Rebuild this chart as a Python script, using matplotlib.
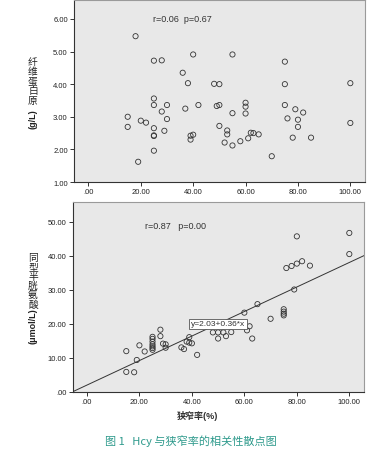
import matplotlib
matplotlib.use('Agg')
import matplotlib.pyplot as plt

plt.rcParams['font.family'] = ['Liberation Sans', 'Noto Sans CJK SC', 'DejaVu Sans']

# 纤维蛋白原 vs 狭窄率
fib_x = [18, 25, 28, 40, 55, 75, 36, 38, 48, 50, 75, 100, 25, 25, 30, 28, 30, 37, 42, 49,
         50, 60, 60, 60, 55, 75, 79, 82, 76, 80, 80, 15, 15, 20, 22, 25, 29, 25, 25, 25,
         19, 39, 40, 39, 50, 53, 53, 52, 55, 58, 61, 62, 63, 65, 70, 78, 85, 100]
fib_y = [5.47, 4.72, 4.73, 4.91, 4.91, 4.69, 4.35, 4.03, 4.01, 4.00, 4.00, 4.03, 3.56, 3.36,
         3.36, 3.16, 2.93, 3.25, 3.36, 3.33, 3.36, 3.43, 3.31, 3.10, 3.11, 3.36, 3.23, 3.13,
         2.95, 2.91, 2.69, 3.00, 2.69, 2.88, 2.82, 2.65, 2.57, 2.43, 2.41, 1.96, 1.62, 2.42,
         2.45, 2.30, 2.72, 2.58, 2.46, 2.21, 2.12, 2.25, 2.34, 2.51, 2.50, 2.46, 1.79, 2.36,
         2.36, 2.81]

# 同型半胱氨酸 vs 狭窄率
hcy_x = [100, 100, 80, 76, 78, 80, 82, 85, 79, 65, 60, 75, 75, 75, 75, 70, 63, 62, 61, 48,
         50, 52, 55, 50, 53, 39, 38, 39, 40, 36, 37, 42, 28, 28, 25, 25, 25, 25, 25, 25, 25,
         29, 30, 30, 20, 22, 15, 19, 15, 18]
hcy_y = [46.7, 40.5, 45.7, 36.4, 37.0, 37.7, 38.4, 37.1, 30.1, 25.8, 23.3, 24.3, 23.6, 23.0,
         22.5, 21.5, 15.7, 19.3, 18.1, 17.5, 17.5, 17.5, 17.6, 15.7, 16.4, 16.1, 14.8, 14.5,
         14.3, 13.1, 12.6, 10.9, 18.3, 16.4, 16.2, 15.6, 14.8, 14.0, 13.4, 12.9, 12.4, 14.2,
         14.0, 13.0, 13.7, 11.9, 12.0, 9.4, 5.9, 5.8]

fit_a, fit_b = 2.03, 0.36
x_ticks = [0, 20, 40, 60, 80, 100]
x_labels = ['.00', '20.00', '40.00', '60.00', '80.00', '100.00']
fib_ticks = [1, 2, 3, 4, 5, 6]
hcy_ticks = [0, 10, 20, 30, 40, 50]

W, H = 391, 452
fig = plt.figure(figsize=(W / 100, H / 100), dpi=100)


def px_ax(l, t, r, b):
    return fig.add_axes([l / W, 1 - b / H, (r - l) / W, (b - t) / H])


def style(ax, yticks, ylabels):
    ax.set_facecolor('#e8e8e8')
    for s in ['top', 'right']:
        ax.spines[s].set_color('#9a9a9a')
        ax.spines[s].set_linewidth(0.8)
    for s in ['left', 'bottom']:
        ax.spines[s].set_color('#333333')
        ax.spines[s].set_linewidth(0.8)
    ax.set_xticks(x_ticks)
    ax.set_xticklabels(x_labels)
    ax.set_yticks(yticks)
    ax.set_yticklabels(ylabels)
    ax.tick_params(length=3, width=0.7, color='#333333', labelsize=5.5, pad=1.5,
                   labelcolor='#222222')


def vlabel(x, y0, chars, rest, step, rest_y):
    # upright stacked characters, then the unit rotated
    for i, c in enumerate(chars):
        fig.text(x / W, 1 - (y0 + i * step) / H, c, ha='center', va='center',
                 fontsize=7, color='#222222', family=['Noto Sans CJK SC', 'DejaVu Sans'])
    fig.text(x / W, 1 - rest_y / H, rest, ha='center', va='center', rotation=90,
             fontsize=6.5, fontweight='bold', color='#222222',
             family=['Liberation Sans', 'Noto Sans CJK SC'])


# top panel
ax1 = px_ax(74, 1, 365, 183)
ax1.scatter(fib_x, fib_y, s=14, facecolors='none', edgecolors='#333333', linewidths=0.6)
ax1.set_xlim(-5.5, 105.6)
ax1.set_ylim(1, 6.58)
style(ax1, fib_ticks, ['%.2f' % v for v in fib_ticks])
ax1.text(24.5, 6.02, 'r=0.06  p=0.67', fontsize=6.5, va='center', color='#333333')
vlabel(33, 62, '纤维蛋白原', '(g/L)', 9.8, 119)

# bottom panel
ax2 = px_ax(72.5, 203.3, 364, 393)
ax2.scatter(hcy_x, hcy_y, s=14, facecolors='none', edgecolors='#333333', linewidths=0.6,
            zorder=2)
xl = (-5.5, 105.6)
ax2.plot(xl, [fit_a + fit_b * v for v in xl], color='#333333', lw=0.7, zorder=3)
ax2.set_xlim(*xl)
ax2.set_ylim(0, 55.7)
style(ax2, hcy_ticks, ['.00'] + ['%.2f' % v for v in hcy_ticks[1:]])
ax2.text(22.2, 49.0, 'r=0.87   p=0.00', fontsize=6.5, va='center', color='#333333')
ax2.text(50, 20.0, 'y=2.03+0.36*x', fontsize=6, ha='center', va='center', color='#333333',
         zorder=4, bbox=dict(boxstyle='square,pad=0.2', fc='white', ec='#555555', lw=0.6))
vlabel(33, 258, '同型半胱氨酸', '(μmol/L)', 9.3, 326)

fig.text(197 / W, 1 - 416 / H, '狭窄率(%)', ha='center', va='center', fontsize=6.5,
         fontweight='bold', color='#333333')
fig.text(191 / W, 1 - 441 / H, '图 1   Hcy 与狭窄率的相关性散点图', ha='center', va='center',
         fontsize=8, color='#2e9a8c', family=['Noto Sans CJK SC', 'DejaVu Sans'])

fig.savefig('out.png', dpi=100, facecolor='white')
